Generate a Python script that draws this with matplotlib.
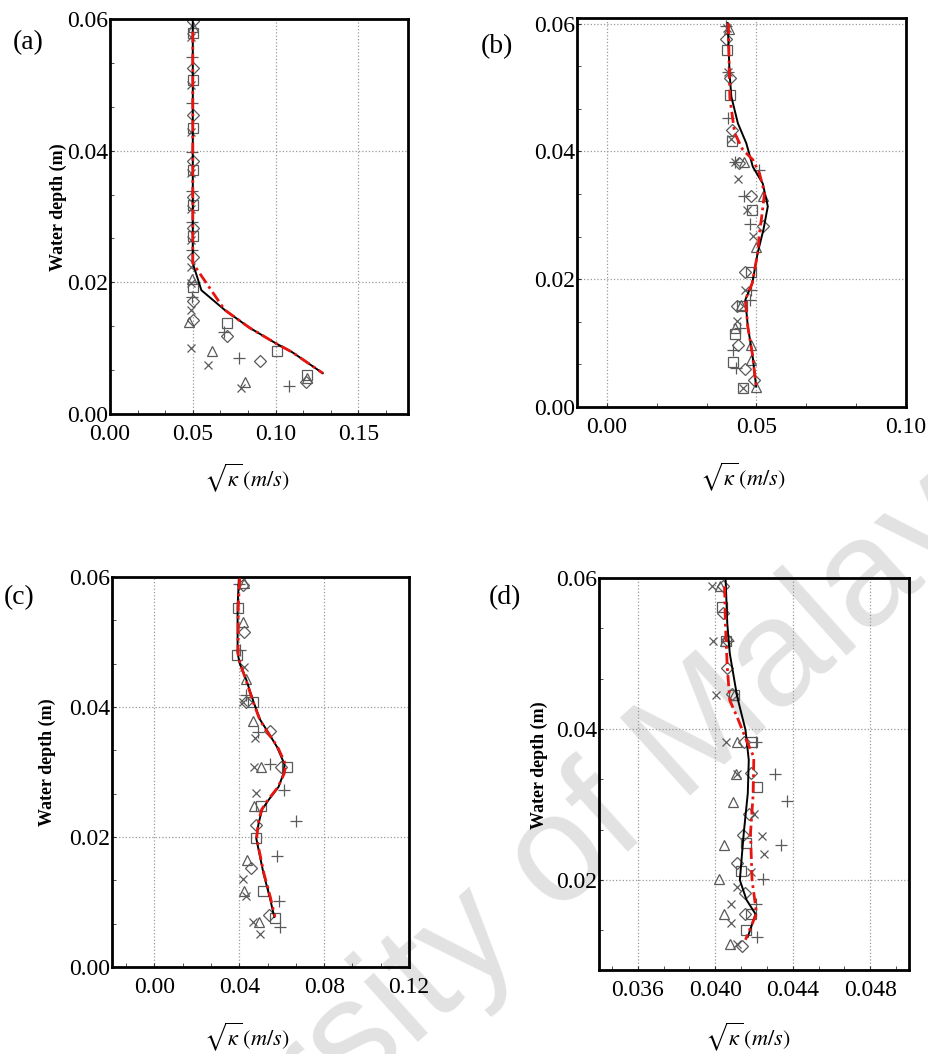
import matplotlib
matplotlib.use('Agg')
import matplotlib.pyplot as plt
from matplotlib.ticker import AutoMinorLocator, FixedLocator

plt.rcParams['font.family'] = ['Liberation Serif', 'DejaVu Serif']
plt.rcParams['mathtext.fontset'] = 'stix'

W, H = 929, 1054

# ---- panel (a) ----
a_black_v = [0.0500, 0.0500, 0.0500, 0.0552, 0.0693, 0.0843, 0.1004, 0.1100, 0.1285]
a_black_d = [0.0600, 0.0400, 0.0229, 0.0188, 0.0158, 0.0131, 0.0107, 0.0094, 0.0062]
a_red_v = [0.0500, 0.0500, 0.0500, 0.0693, 0.0843, 0.1004, 0.1100, 0.1285]
a_red_d = [0.0581, 0.0400, 0.0229, 0.0158, 0.0131, 0.0107, 0.0094, 0.0062]
a_sq_v = [0.050, 0.050, 0.050, 0.050, 0.050, 0.050, 0.050, 0.0709, 0.1010, 0.1189]
a_sq_d = [0.0578, 0.0507, 0.0435, 0.0370, 0.0317, 0.0271, 0.0193, 0.0138, 0.0095, 0.0059]
a_di_v = [0.050, 0.050, 0.050, 0.050, 0.050, 0.050, 0.050, 0.050, 0.050, 0.0707, 0.0904, 0.1185]
a_di_d = [0.0597, 0.0526, 0.0454, 0.0385, 0.0330, 0.0282, 0.0239, 0.0171, 0.0143, 0.0118, 0.0081, 0.0049]
a_tr_v = [0.050, 0.0495, 0.0478, 0.0614, 0.0813, 0.1187]
a_tr_d = [0.0588, 0.0205, 0.0139, 0.0096, 0.0048, 0.0055]
a_pl_v = [0.0495, 0.0495, 0.0495, 0.0495, 0.0495, 0.0495, 0.0495, 0.0687, 0.0777, 0.1084]
a_pl_d = [0.0543, 0.0472, 0.0398, 0.0338, 0.0292, 0.0249, 0.0178, 0.0125, 0.0085, 0.0042]
a_x_v = [0.049, 0.049, 0.049, 0.049, 0.049, 0.049, 0.049, 0.049, 0.049, 0.0490, 0.0592, 0.0793]
a_x_d = [0.0573, 0.0500, 0.0429, 0.0366, 0.0312, 0.0264, 0.0224, 0.0199, 0.0158, 0.0101, 0.0074, 0.0040]

# ---- panel (b) ----
b_black_v = [0.0404, 0.0410, 0.0416, 0.0438, 0.0466, 0.0488, 0.0521, 0.0538, 0.0523, 0.0504,
             0.0486, 0.0463, 0.0471, 0.0486, 0.0499]
b_black_d = [0.0601, 0.0523, 0.0486, 0.0444, 0.0413, 0.0376, 0.0350, 0.0314, 0.0277, 0.0241,
             0.0194, 0.0168, 0.0126, 0.0084, 0.0032]
b_red_v = [0.0406, 0.0411, 0.0427, 0.0454, 0.0488, 0.0510, 0.0527, 0.0519, 0.0510, 0.0504,
           0.0486, 0.0463, 0.0471, 0.0486, 0.0499]
b_red_d = [0.0601, 0.0484, 0.0429, 0.0403, 0.0387, 0.0366, 0.0335, 0.0303, 0.0272, 0.0241,
           0.0194, 0.0168, 0.0126, 0.0084, 0.0032]
b_sq_v = [0.0401, 0.0412, 0.0419, 0.0486, 0.0483, 0.0452, 0.0428, 0.0421, 0.0454]
b_sq_d = [0.0559, 0.0489, 0.0416, 0.0308, 0.0212, 0.0158, 0.0115, 0.0071, 0.0030]
b_di_v = [0.0399, 0.0413, 0.0419, 0.0441, 0.0483, 0.0523, 0.0461, 0.0434, 0.0438, 0.0463, 0.0492]
b_di_d = [0.0576, 0.0515, 0.0434, 0.0382, 0.0331, 0.0284, 0.0212, 0.0158, 0.0097, 0.0059, 0.0042]
b_tr_v = [0.0408, 0.0457, 0.0523, 0.0500, 0.0450, 0.0428, 0.0481, 0.0483, 0.0499]
b_tr_d = [0.0592, 0.0383, 0.0330, 0.0250, 0.0160, 0.0123, 0.0097, 0.0074, 0.0032]
b_pl_v = [0.0397, 0.0404, 0.0405, 0.0428, 0.0460, 0.0479, 0.0508, 0.0483, 0.0477, 0.0446,
          0.0423, 0.0432]
b_pl_d = [0.0597, 0.0525, 0.0452, 0.0384, 0.0331, 0.0287, 0.0371, 0.0183, 0.0168, 0.0123,
          0.0089, 0.0061]
b_x_v = [0.0400, 0.0404, 0.0416, 0.0428, 0.0438, 0.0468, 0.0488, 0.0461, 0.0434, 0.0454]
b_x_d = [0.0594, 0.0524, 0.0420, 0.0384, 0.0357, 0.0309, 0.0267, 0.0183, 0.0134, 0.0030]

# ---- panel (c) ----
c_black_v = [0.0398, 0.0392, 0.0392, 0.0402, 0.0433, 0.0467, 0.0499, 0.0538, 0.0577, 0.0613,
             0.0609, 0.0585, 0.0538, 0.0507, 0.0491, 0.0480, 0.0514, 0.0543, 0.0565]
c_black_d = [0.0598, 0.0554, 0.0483, 0.0467, 0.0442, 0.0408, 0.0380, 0.0360, 0.0339, 0.0312,
             0.0298, 0.0277, 0.0257, 0.0242, 0.0221, 0.0198, 0.0144, 0.0108, 0.0077]
c_red_v = [0.0402, 0.0395, 0.0394, 0.0404, 0.0431, 0.0465, 0.0497, 0.0536, 0.0580, 0.0618,
           0.0612, 0.0583, 0.0535, 0.0505, 0.0489, 0.0482, 0.0516, 0.0546, 0.0568]
c_red_d = [0.0598, 0.0554, 0.0483, 0.0467, 0.0442, 0.0408, 0.0380, 0.0360, 0.0339, 0.0312,
           0.0298, 0.0277, 0.0257, 0.0242, 0.0221, 0.0198, 0.0144, 0.0108, 0.0077]
c_sq_v = [0.0392, 0.0389, 0.0467, 0.0627, 0.0500, 0.0477, 0.0514, 0.0568]
c_sq_d = [0.0552, 0.0480, 0.0407, 0.0307, 0.0247, 0.0199, 0.0117, 0.0076]
c_di_v = [0.0417, 0.0420, 0.0433, 0.0546, 0.0598, 0.0480, 0.0455, 0.0540]
c_di_d = [0.0587, 0.0515, 0.0408, 0.0363, 0.0307, 0.0218, 0.0153, 0.0080]
c_tr_v = [0.0420, 0.0417, 0.0431, 0.0463, 0.0504, 0.0471, 0.0436, 0.0424, 0.0491]
c_tr_d = [0.0591, 0.0531, 0.0443, 0.0378, 0.0307, 0.0248, 0.0165, 0.0117, 0.0070]
c_pl_v = [0.0400, 0.0402, 0.0431, 0.0488, 0.0546, 0.0613, 0.0668, 0.0579, 0.0587, 0.0593]
c_pl_d = [0.0589, 0.0488, 0.0418, 0.0361, 0.0313, 0.0273, 0.0225, 0.0171, 0.0101, 0.0061]
c_x_v = [0.0420, 0.0417, 0.0472, 0.0471, 0.0479, 0.0416, 0.0433, 0.0463, 0.0496]
c_x_d = [0.0462, 0.0408, 0.0353, 0.0307, 0.0267, 0.0135, 0.0109, 0.0070, 0.0051]

# ---- panel (d) ----
d_black_v = [0.04053, 0.04062, 0.04075, 0.04113, 0.04156, 0.04173, 0.04168, 0.04147, 0.04127,
             0.04161, 0.04208, 0.04168]
d_black_d = [0.0602, 0.0540, 0.0500, 0.0443, 0.0399, 0.0359, 0.0315, 0.0262, 0.0200,
             0.0174, 0.0155, 0.0125]
d_red_v = [0.04048, 0.04053, 0.04062, 0.04075, 0.04113, 0.04161, 0.04199, 0.04196, 0.04182,
           0.04190, 0.04213, 0.04156]
d_red_d = [0.0589, 0.0535, 0.0482, 0.0438, 0.0416, 0.0385, 0.0363, 0.0315, 0.0262,
           0.0200, 0.0156, 0.0121]
d_sq_v = [0.04036, 0.04056, 0.04099, 0.04190, 0.04216, 0.04158, 0.04135, 0.04182, 0.04161]
d_sq_d = [0.0562, 0.0517, 0.0445, 0.0383, 0.0323, 0.0249, 0.0212, 0.0155, 0.0134]
d_di_v = [0.04040, 0.04041, 0.04060, 0.04062, 0.04088, 0.04147, 0.04187, 0.04173, 0.04144,
          0.04110, 0.04151, 0.04151, 0.04140]
d_di_d = [0.0589, 0.0553, 0.0518, 0.0481, 0.0446, 0.0383, 0.0342, 0.0288, 0.0260,
          0.0223, 0.0183, 0.0155, 0.0113]
d_tr_v = [0.04027, 0.04050, 0.04096, 0.04113, 0.04106, 0.04093, 0.04044, 0.04020, 0.04044, 0.04075]
d_tr_d = [0.0589, 0.0517, 0.0445, 0.0383, 0.0340, 0.0304, 0.0246, 0.0201, 0.0155, 0.0116]
d_pl_v = [0.04065, 0.04208, 0.04310, 0.04370, 0.04340, 0.04247, 0.04210, 0.04216]
d_pl_d = [0.0517, 0.0383, 0.0341, 0.0305, 0.0246, 0.0201, 0.0168, 0.0125]
d_x_v = [0.03985, 0.03990, 0.04005, 0.04055, 0.04110, 0.04199, 0.04242, 0.04250, 0.04185,
         0.04113, 0.04082, 0.04082, 0.04113]
d_x_d = [0.0589, 0.0517, 0.0445, 0.0383, 0.0341, 0.0288, 0.0259, 0.0234, 0.0211,
         0.0191, 0.0168, 0.0143, 0.0116]

MARK = '#5a5a5a'


def fp(x, y):
    return x / W, 1 - y / H


def draw_panel(fig, rect, lines, markers, xlim, ylim, xticks, yticks, xfmt, label, label_xy,
               xlabel_xy, ylabel_xy):
    ax = fig.add_axes([rect[0] / W, 1 - rect[3] / H, (rect[2] - rect[0]) / W,
                       (rect[3] - rect[1]) / H])
    ax.set_facecolor('none')
    for v, d, m, ms in markers:
        ax.plot(v, d, linestyle='none', marker=m, markersize=ms, markerfacecolor='none',
                markeredgecolor=MARK, markeredgewidth=0.9, zorder=2)
    (bv, bd), (rv, rd) = lines
    ax.plot(bv, bd, color='black', lw=1.4, zorder=3)
    ax.plot(rv, rd, color='#e8140f', lw=2.0, linestyle=(0, (4, 1.5, 1, 1.5)), zorder=4)
    ax.set_xlim(*xlim)
    ax.set_ylim(*ylim)
    ax.xaxis.set_major_locator(FixedLocator(xticks))
    ax.yaxis.set_major_locator(FixedLocator(yticks))
    ax.set_xticklabels([xfmt.format(t) for t in xticks])
    ax.set_yticklabels(['{:.2f}'.format(t) for t in yticks])
    ax.xaxis.set_minor_locator(AutoMinorLocator(3))
    ax.yaxis.set_minor_locator(AutoMinorLocator(3))
    ax.tick_params(which='both', direction='in', labelsize=17, color='#333333')
    ax.tick_params(which='major', length=3)
    ax.tick_params(which='minor', length=3)
    ax.tick_params(axis='x', pad=7)
    ax.tick_params(axis='y', pad=1)
    ax.grid(True, which='major', color='#9a9a9a', linestyle=':', linewidth=0.9)
    for s in ax.spines.values():
        s.set_linewidth(2)
    fig.text(*fp(*label_xy), label, fontsize=20, ha='center', va='center')
    fig.text(*fp(*xlabel_xy), r'$\sqrt{\kappa}\,\left(m/s\right)$', fontsize=16,
             ha='center', va='center')
    if ylabel_xy is not None:
        fig.text(*fp(*ylabel_xy), 'Water depth (m)', fontsize=13, fontweight='bold',
                 rotation=90, ha='center', va='center')
    return ax


fig = plt.figure(figsize=(9.29, 10.54), dpi=100)

# faint diagonal watermark behind the panels
fig.text(*fp(510, 905), 'University of Malaya', family=['Liberation Sans', 'DejaVu Sans'],
         fontsize=110, color='#e2e2e2', rotation=42, rotation_mode='anchor',
         ha='center', va='center', zorder=-1)

draw_panel(fig, (110, 19, 408, 414),
           [(a_black_v, a_black_d), (a_red_v, a_red_d)],
           [(a_sq_v, a_sq_d, 's', 7), (a_di_v, a_di_d, 'D', 6), (a_tr_v, a_tr_d, '^', 7),
            (a_pl_v, a_pl_d, '+', 8), (a_x_v, a_x_d, 'x', 6)],
           (0, 0.18), (0, 0.06), [0, 0.05, 0.10, 0.15], [0, 0.02, 0.04, 0.06], '{:.2f}',
           '(a)', (28, 43), (247, 478), (58, 207))

draw_panel(fig, (577, 18, 906, 407),
           [(b_black_v, b_black_d), (b_red_v, b_red_d)],
           [(b_sq_v, b_sq_d, 's', 7), (b_di_v, b_di_d, 'D', 6), (b_tr_v, b_tr_d, '^', 7),
            (b_pl_v, b_pl_d, '+', 8), (b_x_v, b_x_d, 'x', 6)],
           (-0.01, 0.10), (0, 0.0609), [0, 0.05, 0.10], [0, 0.02, 0.04, 0.06], '{:.2f}',
           '(b)', (497, 47), (743, 477), None)

draw_panel(fig, (112, 577, 409, 967),
           [(c_black_v, c_black_d), (c_red_v, c_red_d)],
           [(c_sq_v, c_sq_d, 's', 7), (c_di_v, c_di_d, 'D', 6), (c_tr_v, c_tr_d, '^', 7),
            (c_pl_v, c_pl_d, '+', 8), (c_x_v, c_x_d, 'x', 6)],
           (-0.02, 0.12), (0, 0.06), [0, 0.04, 0.08, 0.12], [0, 0.02, 0.04, 0.06], '{:.2f}',
           '(c)', (19, 598), (247, 1037), (47, 762))

draw_panel(fig, (599, 578, 909, 970),
           [(d_black_v, d_black_d), (d_red_v, d_red_d)],
           [(d_sq_v, d_sq_d, 's', 7), (d_di_v, d_di_d, 'D', 6), (d_tr_v, d_tr_d, '^', 7),
            (d_pl_v, d_pl_d, '+', 8), (d_x_v, d_x_d, 'x', 6)],
           (0.034, 0.050), (0.0081, 0.06), [0.036, 0.040, 0.044, 0.048], [0.02, 0.04, 0.06],
           '{:.3f}', '(d)', (505, 598), (748, 1037), (539, 765))

plt.savefig('out.png', dpi=100)
